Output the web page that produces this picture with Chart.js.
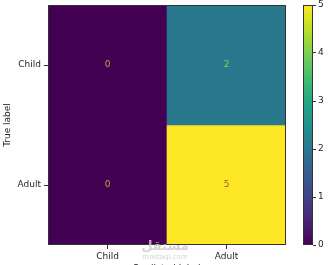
<!DOCTYPE html>
<html>
<head>
<meta charset="utf-8">
<script src="https://cdn.jsdelivr.net/npm/chart.js@4"></script>
<style>
  html, body { margin: 0; padding: 0; background: #fff; overflow: hidden; }
  #wrap { position: relative; width: 331px; height: 275px; }
  #wrap canvas { position: absolute; left: 0; top: 0; }
</style>
</head>
<body>
<div id="wrap">
  <canvas id="matrixChart" width="331" height="275"></canvas>
  <canvas id="barChart" width="331" height="275"></canvas>
</div>
<script>
// ---------------- Data ----------------
const predLabels = ['Child', 'Adult'];
const trueLabels = ['Child', 'Adult'];
const row0 = [0, 2];   // true = Child
const row1 = [0, 5];   // true = Adult
const cbTicks = [0, 1, 2, 3, 4, 5];

const matrix = [row0, row1];
const VMIN = 0, VMAX = 5;

// viridis stops
const VIRIDIS = ['#440154', '#482475', '#414487', '#355f8d', '#2a788e', '#21918c',
                 '#22a884', '#44bf70', '#7ad151', '#bddf26', '#fde725'];

function hex2rgb(h) {
  return [1, 3, 5].map(i => parseInt(h.substr(i, 2), 16));
}
function viridis(t) {
  t = Math.max(0, Math.min(1, t));
  const p = t * (VIRIDIS.length - 1);
  const i = Math.min(Math.floor(p), VIRIDIS.length - 2);
  const f = p - i;
  const a = hex2rgb(VIRIDIS[i]), b = hex2rgb(VIRIDIS[i + 1]);
  const c = a.map((v, k) => Math.round(v + (b[k] - v) * f));
  return `rgb(${c[0]},${c[1]},${c[2]})`;
}
// text colour as it appears over each cell (jpeg-blended look)
function textColor(v) {
  if (v >= 4) return '#9c5a2a';
  if (v >= 1.5) return '#8ad43c';
  return '#c9a02c';
}

const FONT = { family: 'DejaVu Sans', size: 9 };
const INK = '#262626';

Chart.defaults.font.family = 'DejaVu Sans';
Chart.defaults.color = INK;

// ---------------- Plugins ----------------
const frame = {
  id: 'frame',
  afterDraw(chart) {
    const a = chart.chartArea, c = chart.ctx;
    c.save();
    c.strokeStyle = '#333';
    c.lineWidth = 1;
    c.strokeRect(a.left + 0.5, a.top + 0.5, a.right - a.left - 1, a.bottom - a.top - 1);
    c.restore();
  },
};

const cellText = {
  id: 'cellText',
  afterDatasetsDraw(chart) {
    const xs = chart.scales.x, ys = chart.scales.y, c = chart.ctx;
    c.save();
    c.font = '9px "DejaVu Sans"';
    c.textAlign = 'center';
    c.textBaseline = 'middle';
    matrix.forEach((row, r) => {
      row.forEach((v, k) => {
        c.fillStyle = textColor(v);
        c.fillText(String(v), xs.getPixelForValue(k), ys.getPixelForValue(r + 0.5));
      });
    });
    c.restore();
  },
};

const watermark = {
  id: 'watermark',
  afterDraw(chart) {
    const c = chart.ctx;
    c.save();
    c.textAlign = 'center';
    c.textBaseline = 'middle';
    c.fillStyle = 'rgba(205,205,205,0.85)';
    c.font = 'bold 13px "DejaVu Sans"';
    c.fillText('مستقل', 165, 247);
    c.font = '7px "DejaVu Sans"';
    c.fillText('mostaql.com', 165, 257);
    c.restore();
  },
};

// vertical scales: drop the edge padding Chart.js reserves for end labels
const noEdgePad = s => { s.paddingTop = 0; s.paddingBottom = 0; };

// ---------------- Confusion matrix ----------------
new Chart(document.getElementById('matrixChart'), {
  type: 'bar',
  data: {
    labels: predLabels,
    datasets: matrix.map((row, r) => ({
      data: row.map(() => [r, r + 1]),
      backgroundColor: row.map(v => viridis((v - VMIN) / (VMAX - VMIN))),
      borderWidth: 0,
      barPercentage: 1,
      categoryPercentage: 1,
      grouped: false,
    })),
  },
  options: {
    responsive: false,
    animation: false,
    layout: { padding: { top: 5, right: 45, left: 0, bottom: 0 } },
    plugins: { legend: { display: false }, tooltip: { enabled: false } },
    scales: {
      x: {
        type: 'category',
        offset: true,
        afterFit: s => { s.height = 30; s.paddingLeft = 0; s.paddingRight = 0; },
        grid: { offset: false, drawOnChartArea: false, tickLength: 4, color: '#333' },
        border: { display: false },
        ticks: { font: FONT, color: INK, padding: 2, maxRotation: 0 },
        title: { display: true, text: 'Predicted label', font: FONT, color: INK, padding: { top: 2, bottom: 1 } },
      },
      y: {
        type: 'linear',
        reverse: true,
        min: 0,
        max: 2,
        afterFit: s => { s.width = 48; noEdgePad(s); },
        afterBuildTicks: s => { s.ticks = trueLabels.map((_, i) => ({ value: i + 0.5 })); },
        grid: { drawOnChartArea: false, tickLength: 4, color: '#333' },
        border: { display: false },
        ticks: { font: FONT, color: INK, padding: 3, callback: (v, i) => trueLabels[i] },
        title: { display: true, text: 'True label', font: FONT, color: INK, padding: { top: 2, bottom: 2 } },
      },
    },
  },
  plugins: [cellText, frame, watermark],
});

// ---------------- Colour bar ----------------
new Chart(document.getElementById('barChart'), {
  type: 'bar',
  data: {
    labels: [''],
    datasets: [{
      data: [[VMIN, VMAX]],
      backgroundColor: (ctx) => {
        const a = ctx.chart.chartArea;
        if (!a) return VIRIDIS[0];
        const g = ctx.chart.ctx.createLinearGradient(0, a.bottom, 0, a.top);
        VIRIDIS.forEach((col, i) => g.addColorStop(i / (VIRIDIS.length - 1), col));
        return g;
      },
      borderWidth: 0,
      barPercentage: 1,
      categoryPercentage: 1,
    }],
  },
  options: {
    responsive: false,
    animation: false,
    layout: { padding: { top: 5, right: 0, left: 303, bottom: 30 } },
    plugins: { legend: { display: false }, tooltip: { enabled: false } },
    scales: {
      x: { display: false },
      y: {
        position: 'right',
        min: VMIN,
        max: VMAX,
        afterFit: s => { s.width = 18; noEdgePad(s); },
        afterBuildTicks: s => { s.ticks = cbTicks.map(v => ({ value: v })); },
        grid: { drawOnChartArea: false, tickLength: 3, color: '#333' },
        border: { display: false },
        ticks: { font: FONT, color: INK, padding: 2 },
      },
    },
  },
  plugins: [frame],
});
</script>
</body>
</html>
